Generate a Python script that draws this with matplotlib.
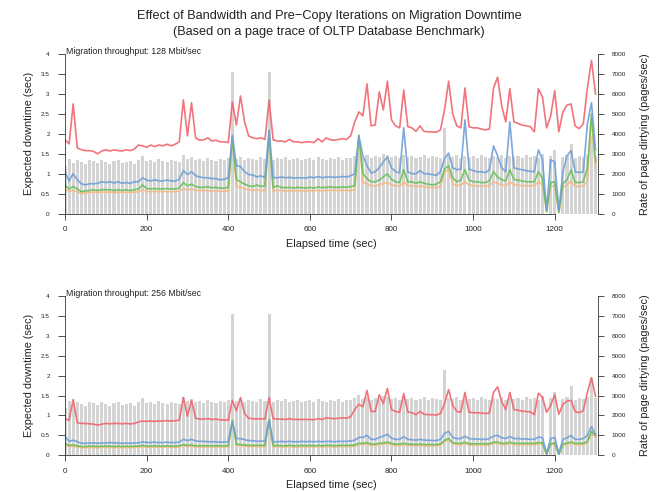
import numpy as np
import matplotlib
matplotlib.use("Agg")
import matplotlib.pyplot as plt
from matplotlib.ticker import FuncFormatter

plt.rcParams['font.family'] = ['Liberation Sans', 'DejaVu Sans']

# elapsed time (sec), one sample every 10 s
time_sec = np.arange(0, 1301, 10)

# page dirtying rate (pages/sec), same trace for both panels
dirty_rate = [
    2400, 2750, 2550, 2700, 2600, 2500, 2700, 2650, 2550, 2700,
    2600, 2500, 2650, 2700, 2550, 2600, 2650, 2500, 2700, 2900,
    2650, 2700, 2600, 2750, 2650, 2600, 2700, 2650, 2600, 2950,
    2750, 2850, 2700, 2750, 2650, 2800, 2700, 2650, 2750, 2700,
    2800, 7100, 2750, 2850, 2700, 2800, 2750, 2700, 2850, 2750,
    7100, 2700, 2800, 2750, 2850, 2700, 2750, 2800, 2700, 2750,
    2800, 2700, 2850, 2750, 2700, 2800, 2750, 2850, 2700, 2800,
    2800, 2900, 3050, 2850, 2950, 2800, 2900, 2850, 3000, 2950,
    2850, 2900, 2800, 2950, 2850, 2900, 2800, 2850, 2950, 2800,
    2900, 2850, 2800, 4300, 2900, 2850, 2950, 2800, 2900, 2850,
    2900, 2800, 2950, 2850, 2800, 2900, 2850, 2950, 2800, 2900,
    2850, 2900, 2800, 2950, 2850, 2900, 2800, 3000, 0, 2900,
    3200, 0, 2850, 2950, 3500, 2800, 2900, 2850, 2950, 3900,
    2900,
]

# ---- 128 Mbit/sec panel: expected downtime (sec) ----
red_128 = [
    1.85, 1.75, 2.75, 1.65, 1.60, 1.58, 1.58, 1.56, 1.50, 1.57,
    1.60, 1.57, 1.60, 1.58, 1.57, 1.60, 1.58, 1.62, 1.72, 1.70,
    1.66, 1.72, 1.68, 1.72, 1.70, 1.74, 1.70, 1.74, 1.80, 2.85,
    1.95, 2.78, 1.90, 1.84, 1.85, 1.90, 1.82, 1.84, 1.80, 1.80,
    1.78, 2.80, 2.22, 2.95, 2.30, 1.95, 1.90, 1.88, 1.90, 1.86,
    2.85, 1.85, 1.82, 1.82, 1.80, 1.86, 1.80, 1.80, 1.78, 1.80,
    1.80, 1.78, 1.88, 1.80, 1.90, 1.85, 1.84, 1.86, 1.88, 1.86,
    1.95, 2.30, 2.55, 2.45, 3.25, 2.20, 2.22, 3.05, 2.60, 3.32,
    2.35, 2.20, 2.15, 3.10, 2.18, 2.15, 2.06, 2.20, 2.06, 2.05,
    2.05, 2.04, 2.10, 2.60, 3.32, 2.50, 2.20, 2.15, 3.15, 2.18,
    2.15, 2.15, 2.12, 2.10, 2.12, 3.15, 3.42, 2.70, 2.30, 3.13,
    2.30, 2.26, 2.22, 2.20, 2.18, 2.05, 3.13, 2.92, 2.15, 2.45,
    3.08, 2.05, 2.55, 2.72, 2.75, 2.20, 2.13, 2.25, 3.15, 3.84,
    3.00,
]
blue_128 = [
    1.05, 0.82, 1.00, 0.85, 0.75, 0.72, 0.75, 0.75, 0.76, 0.80,
    0.78, 0.80, 0.77, 0.80, 0.76, 0.78, 0.76, 0.80, 0.80, 0.90,
    0.84, 0.82, 0.85, 0.82, 0.82, 0.84, 0.82, 0.82, 0.86, 1.08,
    0.98, 1.05, 0.95, 0.92, 0.90, 0.90, 0.88, 0.88, 0.85, 0.86,
    0.90, 1.97, 1.20, 1.18, 1.05, 0.98, 0.97, 0.92, 0.95, 0.90,
    2.10, 0.90, 0.90, 0.92, 0.90, 0.91, 0.89, 0.90, 0.90, 0.89,
    0.92, 0.90, 0.93, 0.90, 0.92, 0.92, 0.91, 0.92, 0.93, 0.92,
    0.95, 1.00, 1.95, 1.45, 1.20, 1.02, 1.05, 1.15, 1.30, 1.42,
    1.15, 1.05, 1.02, 2.15, 1.05, 1.00, 1.00, 1.08, 1.00, 1.00,
    0.98, 0.96, 1.05, 1.38, 1.52, 1.15, 1.10, 1.12, 2.35, 1.12,
    1.08, 1.05, 1.05, 1.03, 1.10, 1.70, 1.45, 1.15, 1.05, 2.30,
    1.15, 1.12, 1.10, 1.08, 1.06, 1.05, 1.60, 1.35, 0.10, 1.35,
    1.30, 0.08, 1.05, 1.45, 1.58, 1.05, 1.03, 1.05, 2.25, 2.78,
    1.60,
]
green_128 = [
    0.72, 0.62, 0.68, 0.62, 0.55, 0.57, 0.58, 0.60, 0.58, 0.60,
    0.60, 0.60, 0.58, 0.60, 0.58, 0.60, 0.58, 0.60, 0.62, 0.72,
    0.63, 0.62, 0.63, 0.62, 0.62, 0.63, 0.62, 0.62, 0.64, 0.78,
    0.70, 0.74, 0.68, 0.66, 0.66, 0.67, 0.65, 0.66, 0.64, 0.64,
    0.66, 1.90, 0.85, 0.80, 0.74, 0.70, 0.68, 0.72, 0.68, 0.70,
    2.00, 0.65, 0.70, 0.66, 0.65, 0.66, 0.64, 0.66, 0.65, 0.64,
    0.66, 0.64, 0.67, 0.65, 0.66, 0.67, 0.66, 0.66, 0.67, 0.66,
    0.68, 0.70, 1.97, 1.00, 0.88, 0.80, 0.80, 0.84, 0.92, 1.00,
    0.86, 0.80, 0.78, 1.10, 0.80, 0.80, 0.76, 0.80, 0.76, 0.74,
    0.72, 0.74, 0.80, 1.12, 1.20, 0.90, 0.80, 0.84, 1.10, 0.84,
    0.80, 0.80, 0.78, 0.78, 0.82, 1.05, 0.92, 0.85, 0.82, 1.10,
    0.86, 0.84, 0.82, 0.80, 0.80, 0.80, 1.05, 0.88, 0.05, 0.78,
    0.80, 0.03, 0.75, 0.85, 1.10, 0.78, 0.78, 0.80, 1.15, 2.50,
    1.30,
]
orange_128 = [
    0.62, 0.56, 0.58, 0.55, 0.50, 0.52, 0.53, 0.54, 0.53, 0.54,
    0.54, 0.54, 0.53, 0.54, 0.53, 0.54, 0.53, 0.54, 0.55, 0.60,
    0.56, 0.55, 0.56, 0.55, 0.55, 0.56, 0.55, 0.55, 0.57, 0.62,
    0.60, 0.61, 0.59, 0.58, 0.58, 0.58, 0.57, 0.57, 0.56, 0.56,
    0.57, 1.85, 0.68, 0.66, 0.62, 0.60, 0.58, 0.60, 0.58, 0.58,
    1.95, 0.57, 0.59, 0.58, 0.57, 0.58, 0.57, 0.58, 0.57, 0.57,
    0.58, 0.57, 0.59, 0.57, 0.58, 0.59, 0.58, 0.58, 0.59, 0.58,
    0.58, 0.60, 1.90, 0.80, 0.74, 0.70, 0.70, 0.72, 0.76, 0.78,
    0.72, 0.70, 0.68, 0.80, 0.70, 0.70, 0.67, 0.70, 0.67, 0.66,
    0.65, 0.66, 0.68, 1.05, 1.10, 0.75, 0.70, 0.72, 0.80, 0.72,
    0.70, 0.70, 0.69, 0.69, 0.70, 0.80, 0.76, 0.72, 0.70, 0.80,
    0.72, 0.71, 0.70, 0.70, 0.70, 0.70, 0.80, 0.74, 0.04, 0.68,
    0.70, 0.02, 0.66, 0.72, 0.82, 0.68, 0.68, 0.70, 0.82, 2.40,
    1.10,
]

# ---- 256 Mbit/sec panel ----
red_256 = [
    0.92, 0.88, 1.40, 0.82, 0.80, 0.80, 0.79, 0.78, 0.76, 0.78,
    0.80, 0.79, 0.80, 0.80, 0.79, 0.80, 0.79, 0.80, 0.84, 0.86,
    0.85, 0.86, 0.85, 0.86, 0.86, 0.87, 0.86, 0.87, 0.88, 1.45,
    0.98, 1.38, 0.93, 0.91, 0.91, 0.92, 0.90, 0.91, 0.89, 0.89,
    0.88, 1.38, 1.12, 1.45, 1.05, 0.93, 0.92, 0.91, 0.92, 0.91,
    1.45, 0.92, 0.91, 0.91, 0.90, 0.92, 0.90, 0.90, 0.90, 0.90,
    0.90, 0.89, 0.92, 0.90, 0.94, 0.93, 0.92, 0.93, 0.94, 0.93,
    0.97, 1.15, 1.28, 1.22, 1.63, 1.10, 1.10, 1.52, 1.30, 1.68,
    1.15, 1.10, 1.08, 1.55, 1.09, 1.07, 1.02, 1.10, 1.03, 1.02,
    1.02, 1.01, 1.05, 1.30, 1.65, 1.25, 1.10, 1.08, 1.58, 1.08,
    1.07, 1.07, 1.06, 1.05, 1.06, 1.58, 1.72, 1.35, 1.15, 1.58,
    1.15, 1.13, 1.11, 1.10, 1.09, 1.02, 1.56, 1.46, 1.08, 1.25,
    1.52, 1.03, 1.28, 1.36, 1.38, 1.10, 1.07, 1.12, 1.58, 1.95,
    1.48,
]
blue_256 = [
    0.48, 0.35, 0.38, 0.34, 0.30, 0.30, 0.31, 0.31, 0.30, 0.31,
    0.31, 0.32, 0.31, 0.31, 0.30, 0.31, 0.30, 0.31, 0.31, 0.34,
    0.32, 0.32, 0.33, 0.32, 0.32, 0.33, 0.32, 0.32, 0.33, 0.40,
    0.37, 0.40, 0.36, 0.35, 0.35, 0.34, 0.34, 0.34, 0.33, 0.33,
    0.34, 0.85, 0.42, 0.42, 0.39, 0.37, 0.37, 0.35, 0.36, 0.35,
    0.88, 0.34, 0.34, 0.35, 0.34, 0.35, 0.34, 0.34, 0.35, 0.34,
    0.35, 0.34, 0.35, 0.34, 0.35, 0.35, 0.34, 0.35, 0.35, 0.35,
    0.36, 0.38, 0.45, 0.45, 0.50, 0.40, 0.40, 0.45, 0.48, 0.53,
    0.43, 0.40, 0.40, 0.47, 0.40, 0.39, 0.38, 0.40, 0.38, 0.38,
    0.37, 0.37, 0.40, 0.55, 0.60, 0.45, 0.42, 0.42, 0.48, 0.42,
    0.41, 0.41, 0.40, 0.40, 0.42, 0.48, 0.50, 0.44, 0.42, 0.47,
    0.42, 0.42, 0.41, 0.41, 0.40, 0.40, 0.46, 0.44, 0.05, 0.42,
    0.45, 0.05, 0.40, 0.44, 0.50, 0.40, 0.40, 0.42, 0.50, 0.72,
    0.52,
]
green_256 = [
    0.30, 0.25, 0.26, 0.24, 0.22, 0.22, 0.23, 0.23, 0.22, 0.23,
    0.23, 0.23, 0.22, 0.23, 0.22, 0.23, 0.22, 0.23, 0.23, 0.25,
    0.23, 0.23, 0.24, 0.23, 0.23, 0.24, 0.23, 0.23, 0.24, 0.27,
    0.25, 0.26, 0.24, 0.24, 0.24, 0.24, 0.24, 0.24, 0.24, 0.24,
    0.24, 0.88, 0.28, 0.27, 0.26, 0.25, 0.25, 0.25, 0.25, 0.25,
    0.90, 0.24, 0.25, 0.24, 0.24, 0.25, 0.24, 0.24, 0.25, 0.24,
    0.25, 0.24, 0.25, 0.24, 0.25, 0.25, 0.24, 0.25, 0.25, 0.25,
    0.25, 0.26, 0.30, 0.30, 0.32, 0.28, 0.28, 0.30, 0.31, 0.33,
    0.30, 0.28, 0.28, 0.30, 0.28, 0.28, 0.27, 0.28, 0.27, 0.27,
    0.27, 0.27, 0.28, 0.38, 0.42, 0.32, 0.30, 0.30, 0.33, 0.29,
    0.29, 0.29, 0.29, 0.29, 0.29, 0.33, 0.33, 0.30, 0.30, 0.33,
    0.30, 0.30, 0.30, 0.30, 0.30, 0.30, 0.32, 0.31, 0.02, 0.29,
    0.31, 0.02, 0.28, 0.31, 0.33, 0.30, 0.30, 0.30, 0.35, 0.60,
    0.50,
]
orange_256 = [
    0.26, 0.22, 0.23, 0.21, 0.19, 0.19, 0.20, 0.20, 0.19, 0.20,
    0.20, 0.20, 0.19, 0.20, 0.19, 0.20, 0.19, 0.20, 0.20, 0.22,
    0.20, 0.20, 0.21, 0.20, 0.20, 0.21, 0.20, 0.20, 0.21, 0.24,
    0.22, 0.23, 0.21, 0.21, 0.21, 0.21, 0.21, 0.21, 0.21, 0.21,
    0.21, 0.85, 0.25, 0.24, 0.23, 0.22, 0.22, 0.22, 0.22, 0.22,
    0.87, 0.21, 0.22, 0.21, 0.21, 0.22, 0.21, 0.21, 0.22, 0.21,
    0.22, 0.21, 0.22, 0.21, 0.22, 0.22, 0.21, 0.22, 0.22, 0.22,
    0.22, 0.23, 0.27, 0.27, 0.29, 0.25, 0.25, 0.27, 0.28, 0.30,
    0.27, 0.25, 0.25, 0.27, 0.25, 0.25, 0.24, 0.25, 0.24, 0.24,
    0.24, 0.24, 0.25, 0.35, 0.39, 0.29, 0.27, 0.27, 0.30, 0.26,
    0.26, 0.26, 0.26, 0.26, 0.26, 0.30, 0.30, 0.27, 0.27, 0.30,
    0.27, 0.27, 0.27, 0.27, 0.27, 0.27, 0.29, 0.28, 0.02, 0.26,
    0.28, 0.02, 0.25, 0.28, 0.30, 0.27, 0.27, 0.27, 0.32, 0.55,
    0.46,
]

panel_titles = ["Migration throughput: 128 Mbit/sec",
                "Migration throughput: 256 Mbit/sec"]
panels = [
    (red_128, blue_128, green_128, orange_128),
    (red_256, blue_256, green_256, orange_256),
]

y_ticks = [0, 0.5, 1, 1.5, 2, 2.5, 3, 3.5, 4]
x_ticks = [0, 200, 400, 600, 800, 1000, 1200]
rate_ticks = [0, 1000, 2000, 3000, 4000, 5000, 6000, 7000, 8000]

C_RED = '#f0646e'
C_BLUE = '#6f9fd8'
C_GREEN = '#5fbf50'
C_ORANGE = '#f5b985'
C_BAR = '#d4d4d4'
C_AX = '#333333'

fig = plt.figure(figsize=(6.58, 4.92), dpi=100)
fig.patch.set_facecolor('white')

fig.text(0.5, 0.968, "Effect of Bandwidth and Pre\u2212Copy Iterations on Migration Downtime",
         ha='center', va='center', fontsize=9.2, color='#222222')
fig.text(0.5, 0.934, "(Based on a page trace of OLTP Database Benchmark)",
         ha='center', va='center', fontsize=9.2, color='#222222')

positions = [[0.0988, 0.5657, 0.810, 0.3245],
             [0.0988, 0.0746, 0.810, 0.3238]]

for pos, (red, blue, green, orange), ttl in zip(positions, panels, panel_titles):
    ax = fig.add_axes(pos)
    ax2 = ax.twinx()
    ax.set_zorder(ax2.get_zorder() + 1)
    ax.patch.set_visible(False)

    ax2.bar(time_sec, dirty_rate, width=7.5, color=C_BAR, linewidth=0, align='center')
    ax2.set_ylim(0, 8000)
    ax2.set_yticks(rate_ticks)
    ax2.tick_params(axis='y', labelsize=4.6, length=4, width=0.6, color=C_AX,
                    labelcolor='#222222', pad=6)

    ax.plot(time_sec, orange, color=C_ORANGE, lw=1.2, alpha=0.9)
    ax.plot(time_sec, green, color=C_GREEN, lw=1.2, alpha=0.85)
    ax.plot(time_sec, blue, color=C_BLUE, lw=1.2, alpha=0.9)
    ax.plot(time_sec, red, color=C_RED, lw=1.2, alpha=0.9)

    ax.set_xlim(0, 1306)
    ax.set_ylim(0, 4)
    ax.set_yticks(y_ticks)
    ax.yaxis.set_major_formatter(FuncFormatter(lambda v, p: f"{v:g}"))
    ax.set_xticks(x_ticks)
    ax.tick_params(axis='y', labelsize=4.6, length=5, width=0.6, color=C_AX,
                   labelcolor='#222222', pad=6)
    ax.tick_params(axis='x', labelsize=5.8, length=4, width=0.6, color=C_AX,
                   labelcolor='#222222', pad=5)

    for a in (ax, ax2):
        a.spines['top'].set_visible(False)
    ax.spines['right'].set_visible(False)
    ax2.spines['left'].set_visible(False)
    ax2.spines['bottom'].set_visible(False)
    ax.spines['left'].set_bounds(0, 4)
    ax.spines['bottom'].set_bounds(0, 1200)
    for s in ('left', 'bottom'):
        ax.spines[s].set_linewidth(0.6)
        ax.spines[s].set_color(C_AX)
    ax2.spines['right'].set_linewidth(0.6)
    ax2.spines['right'].set_color(C_AX)

    ax.set_ylabel("Expected downtime (sec)", fontsize=7.8, color='#222222', labelpad=5)
    ax2.set_ylabel("Rate of page dirtying (pages/sec)", fontsize=7.8, color='#222222', labelpad=10)
    ax.set_xlabel("Elapsed time (sec)", fontsize=7.8, color='#222222', labelpad=4)

    ax.text(2, 4.07, ttl, ha='left', va='center', fontsize=6.3, color='#222222',
            clip_on=False)

fig.savefig("out.png", dpi=100, facecolor='white')
